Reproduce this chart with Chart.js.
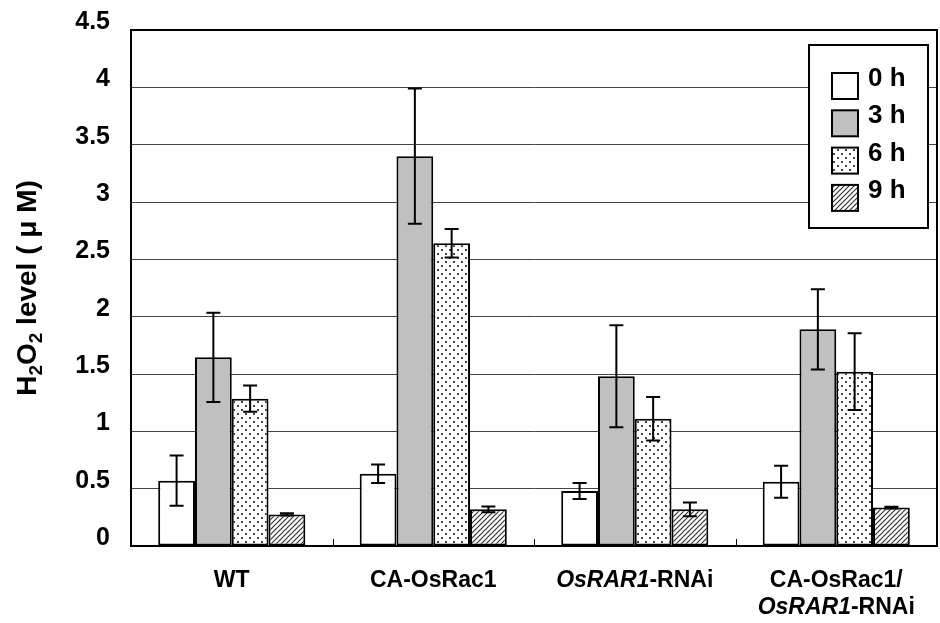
<!DOCTYPE html>
<html>
<head>
<meta charset="utf-8">
<script src="https://cdn.jsdelivr.net/npm/chart.js@4.4.1/dist/chart.umd.min.js"></script>
<style>
  html, body { margin: 0; padding: 0; background: #fff; }
</style>
</head>
<body>
<canvas id="h2o2Chart" width="940" height="623"></canvas>
<script>
// categories (x axis); *...* marks italic text, | marks a line break
const categories = ["WT", "CA-OsRac1", "*OsRAR1*-RNAi", "CA-OsRac1/|*OsRAR1*-RNAi"];
const hours = ["0 h", "3 h", "6 h", "9 h"];
const yTicks = [0, 0.5, 1, 1.5, 2, 2.5, 3, 3.5, 4, 4.5];
const yTickLabels = ["0", "0.5", "1", "1.5", "2", "2.5", "3", "3.5", "4", "4.5"];

// H2O2 level (uM), mean and error for each time point
const h0 = [0.57, 0.63, 0.48, 0.56];
const h0Err = [0.22, 0.08, 0.07, 0.14];
const h3 = [1.645, 3.40, 1.48, 1.89];
const h3Err = [0.39, 0.59, 0.445, 0.35];
const h6 = [1.285, 2.64, 1.11, 1.52];
const h6Err = [0.115, 0.125, 0.19, 0.335];
const h9 = [0.275, 0.32, 0.32, 0.335];
const h9Err = [0.01, 0.025, 0.06, 0.008];

const FONT = '"Liberation Sans", Arial, Helvetica, sans-serif';
const ctx = document.getElementById("h2o2Chart").getContext("2d");

// Fill patterns: dots for 6 h, diagonal hatch for 9 h
function dotPattern() {
    const c = document.createElement("canvas");
    c.width = 8; c.height = 8;
    const p = c.getContext("2d");
    p.fillStyle = "#fff";
    p.fillRect(0, 0, 8, 8);
    p.fillStyle = "#444";
    p.fillRect(1, 1, 2, 2);
    p.fillRect(5, 5, 2, 2);
    return ctx.createPattern(c, "repeat");
}
function hatchPattern() {
    const c = document.createElement("canvas");
    c.width = 5; c.height = 5;
    const p = c.getContext("2d");
    p.fillStyle = "#fff";
    p.fillRect(0, 0, 5, 5);
    p.strokeStyle = "#333";
    p.lineWidth = 1.2;
    p.beginPath();
    p.moveTo(-1, 6); p.lineTo(6, -1);
    p.moveTo(-1, 1); p.lineTo(1, -1);
    p.moveTo(4, 6); p.lineTo(6, 4);
    p.stroke();
    return ctx.createPattern(c, "repeat");
}

function parseLine(line) {
    // split into [{text, italic}]
    return line.split("*").map((t, i) => ({ text: t, italic: i % 2 === 1 })).filter(s => s.text);
}

const errorBars = {
    id: "errorBars",
    afterDatasetsDraw(chart) {
        const c = chart.ctx, y = chart.scales.y;
        c.save();
        c.strokeStyle = "#000";
        c.lineWidth = 2;
        chart.data.datasets.forEach((ds, di) => {
            chart.getDatasetMeta(di).data.forEach((bar, i) => {
                const v = ds.data[i], e = ds.errors[i];
                const top = y.getPixelForValue(v + e), bot = y.getPixelForValue(v - e);
                c.beginPath();
                c.moveTo(bar.x, top); c.lineTo(bar.x, bot);
                c.moveTo(bar.x - 7, top); c.lineTo(bar.x + 7, top);
                c.moveTo(bar.x - 7, bot); c.lineTo(bar.x + 7, bot);
                c.stroke();
            });
        });
        c.restore();
    }
};

const decorations = {
    id: "decorations",
    afterDraw(chart) {
        const c = chart.ctx, area = chart.chartArea, x = chart.scales.x;
        c.save();

        // frame round the plot
        c.strokeStyle = "#000";
        c.lineWidth = 2;
        c.strokeRect(area.left, area.top, area.right - area.left, area.bottom - area.top);

        // small inside tick marks between categories
        c.lineWidth = 1;
        for (let i = 1; i < categories.length; i++) {
            const bx = Math.round((x.getPixelForValue(i - 1) + x.getPixelForValue(i)) / 2) + 0.5;
            c.beginPath();
            c.moveTo(bx, area.bottom);
            c.lineTo(bx, area.bottom - 7);
            c.stroke();
        }

        // category labels with italic parts
        c.fillStyle = "#000";
        c.textBaseline = "middle";
        categories.forEach((cat, i) => {
            const cx = x.getPixelForValue(i);
            cat.split("|").forEach((line, li) => {
                const segs = parseLine(line);
                const fontOf = s => (s.italic ? "italic " : "") + "bold 23px " + FONT;
                let w = 0;
                segs.forEach(s => { c.font = fontOf(s); w += c.measureText(s.text).width; });
                let tx = cx - w / 2;
                const ty = area.bottom + 35 + li * 27;
                segs.forEach(s => {
                    c.font = fontOf(s);
                    c.textAlign = "left";
                    c.fillText(s.text, tx, ty);
                    tx += c.measureText(s.text).width;
                });
            });
        });

        // y axis title with subscripts
        c.translate(27, (area.top + area.bottom) / 2);
        c.rotate(-Math.PI / 2);
        const parts = [["H", 0], ["2", 1], ["O", 0], ["2", 1], [" level ( \u03bc M)", 0]];
        const big = "bold 28px " + FONT, small = "bold 19px " + FONT;
        let tw = 0;
        parts.forEach(([t, sub]) => { c.font = sub ? small : big; tw += c.measureText(t).width; });
        let px = -tw / 2;
        c.textBaseline = "alphabetic";
        c.textAlign = "left";
        parts.forEach(([t, sub]) => {
            c.font = sub ? small : big;
            c.fillText(t, px, sub ? 15 : 9);
            px += c.measureText(t).width;
        });
        c.setTransform(1, 0, 0, 1, 0, 0);

        // legend box in the upper right of the plot
        const bx = area.right - 128, by = area.top + 15;
        c.fillStyle = "#fff";
        c.fillRect(bx, by, 119, 183);
        c.strokeStyle = "#000";
        c.lineWidth = 2;
        c.strokeRect(bx, by, 119, 183);
        chart.data.datasets.forEach((ds, i) => {
            const sy = by + 28 + i * 37.3;
            c.fillStyle = ds.backgroundColor;
            c.fillRect(bx + 23, sy, 26, 26);
            c.strokeStyle = "#000";
            c.lineWidth = 2;
            c.strokeRect(bx + 23, sy, 26, 26);
            c.fillStyle = "#000";
            c.font = "bold 26px " + FONT;
            c.textBaseline = "middle";
            c.textAlign = "left";
            c.fillText(ds.label, bx + 59, sy + 6);
        });
        c.restore();
    }
};

const barStyle = { borderColor: "#000", borderWidth: 2, borderSkipped: false, categoryPercentage: 0.73, barPercentage: 1 };

const h2o2Chart = new Chart(ctx, {
    type: "bar",
    data: {
        labels: categories.map(c => c.replace(/\*/g, "").replace("|", " ")),
        datasets: [
            { label: hours[0], data: h0, errors: h0Err, backgroundColor: "#ffffff", ...barStyle },
            { label: hours[1], data: h3, errors: h3Err, backgroundColor: "#c0c0c0", ...barStyle },
            { label: hours[2], data: h6, errors: h6Err, backgroundColor: dotPattern(), ...barStyle },
            { label: hours[3], data: h9, errors: h9Err, backgroundColor: hatchPattern(), ...barStyle }
        ]
    },
    options: {
        responsive: false,
        animation: false,
        layout: { padding: { top: 30, right: 3, left: 0, bottom: 0 } },
        plugins: {
            legend: { display: false },
            tooltip: { enabled: false }
        },
        scales: {
            x: {
                grid: { display: false },
                border: { color: "#000", width: 2 },
                ticks: { display: false },
                afterFit: s => { s.height = 77; s.paddingLeft = 0; s.paddingRight = 0; }
            },
            y: {
                min: 0,
                max: 4.5,
                afterFit: s => { s.width = 131; s.paddingTop = 0; s.paddingBottom = 0; },
                afterBuildTicks: s => { s.ticks = yTicks.map(v => ({ value: v })); },
                grid: { color: "#444", lineWidth: 1, drawTicks: false },
                border: { color: "#000", width: 2 },
                ticks: {
                    color: "#000",
                    font: { family: FONT, size: 25, weight: "bold" },
                    padding: 21,
                    labelOffset: -8,
                    callback: (v, i) => yTickLabels[i]
                }
            }
        }
    },
    plugins: [errorBars, decorations]
});
</script>
</body>
</html>
